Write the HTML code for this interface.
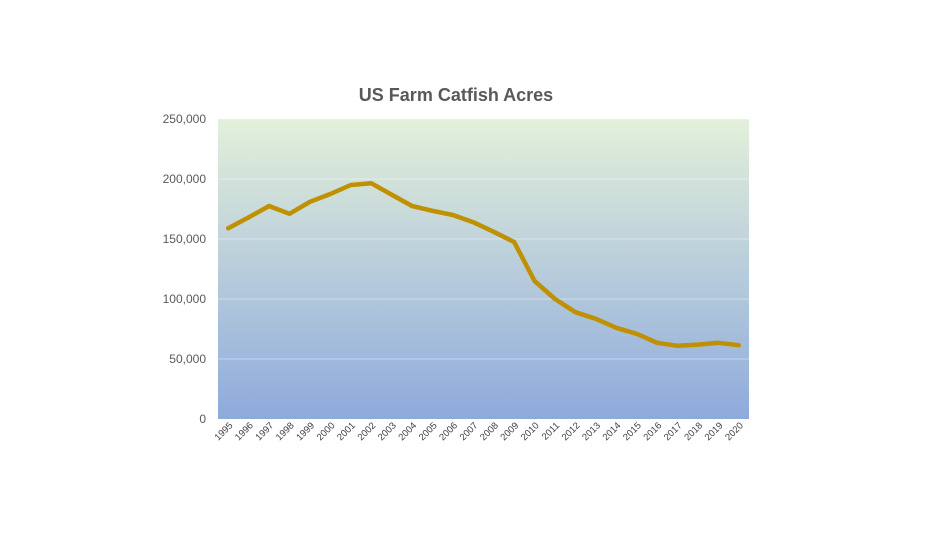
<!DOCTYPE html>
<html><head><meta charset="utf-8"><style>
body{margin:0;background:#fff;}
svg{display:block;font-family:"Liberation Sans",Arial,sans-serif;}
</style></head><body>
<svg id="chart" width="950" height="534">
<defs><linearGradient id="bg" x1="0" y1="0" x2="0" y2="1">
<stop offset="0" stop-color="#e3f0da"/><stop offset="1" stop-color="#8eaadc"/></linearGradient></defs>
<text x="456" y="101" text-anchor="middle" font-size="18" font-weight="bold" fill="#595959">US Farm Catfish Acres</text>
<rect x="218" y="119" width="531" height="300" fill="url(#bg)"/>
<g id="grid"></g><g id="yt"></g><g id="xt"></g><g id="series"></g>
</svg>
<script>
const years=["1995","1996","1997","1998","1999","2000","2001","2002","2003","2004","2005","2006","2007","2008","2009","2010","2011","2012","2013","2014","2015","2016","2017","2018","2019","2020"];
const acres=[159000,168000,177500,171000,181000,187500,195000,196500,187000,177500,173500,170000,164000,156000,147500,115000,100000,89000,83500,76000,71000,63500,61000,62000,63500,61500];
const yTicks=[0,50000,100000,150000,200000,250000];
const yTickLabels=["0","50,000","100,000","150,000","200,000","250,000"];
const NS="http://www.w3.org/2000/svg";
const L=218,R=749,T=119,B=419,YMAX=250000;
const bw=(R-L)/years.length;
const xs=i=>L+bw*(i+0.5);
const ys=v=>B-(v/YMAX)*(B-T);
function mk(tag,attrs,parent){const e=document.createElementNS(NS,tag);for(const k in attrs)e.setAttribute(k,attrs[k]);document.getElementById(parent).appendChild(e);return e;}
yTicks.forEach((v,i)=>{
 if(v>0){const g=mk('line',{x1:L,x2:R,y1:ys(v),y2:ys(v),stroke:'#ffffff','stroke-opacity':0.4,'stroke-width':1},'grid');
 
 }
 const t=mk('text',{x:206,y:ys(v)+4,'text-anchor':'end','font-size':12,fill:'#595959'},'yt');
 t.textContent=yTickLabels[i];
 
 
});
years.forEach((y,i)=>{
 const x=xs(i)+5,yy=426;
 const t=mk('text',{x:x,y:yy,'text-anchor':'end','font-size':9.5,fill:'#404040',transform:`rotate(-45 ${x} ${yy})`},'xt');
 t.textContent=y;
 
 
});
const p=mk('polyline',{points:acres.map((v,i)=>xs(i)+','+ys(v)).join(' '),fill:'none',stroke:'#bf9000','stroke-width':4.5,'stroke-linejoin':'round','stroke-linecap':'round'},'series');


</script>
</body></html>
